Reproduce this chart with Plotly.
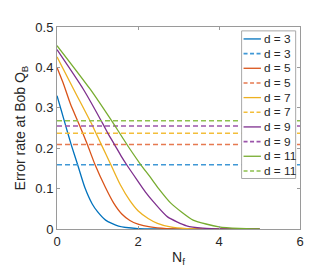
import plotly.graph_objects as go

# ---- data ----
labels = ["d = 3", "d = 5", "d = 7", "d = 9", "d = 11"]

x_d3 = [0, 0.11, 0.21, 0.35, 0.51, 0.69, 0.87, 1.0, 1.2, 1.52, 2.0, 2.5, 3.0, 4.0, 5.0]
y_d3 = [0.330, 0.292, 0.257, 0.209, 0.159, 0.102, 0.062, 0.043, 0.022, 0.007, 0.001, 0.0, 0.0, 0.0, 0.0]

x_d5 = [0, 0.15, 0.33, 0.555, 0.75, 0.94, 1.2, 1.4, 1.6, 1.8, 2.0, 2.3, 2.7, 3.2, 4.0, 5.0]
y_d5 = [0.400, 0.362, 0.310, 0.257, 0.209, 0.159, 0.102, 0.064, 0.037, 0.021, 0.012, 0.005, 0.001, 0.0, 0.0, 0.0]

x_d7 = [0, 0.41, 0.87, 1.08, 1.33, 1.56, 1.8, 2.0, 2.25, 2.48, 2.8, 3.2, 3.7, 5.0]
y_d7 = [0.426, 0.346, 0.257, 0.212, 0.159, 0.110, 0.070, 0.045, 0.026, 0.014, 0.005, 0.001, 0.0, 0.0]

x_d9 = [0, 0.65, 1.15, 1.25, 1.42, 1.6, 1.72, 2.0, 2.18, 2.41, 2.73, 3.2, 3.6, 4.2, 5.0]
y_d9 = [0.444, 0.346, 0.257, 0.238, 0.209, 0.178, 0.159, 0.118, 0.092, 0.064, 0.030, 0.008, 0.002, 0.0, 0.0]

x_d11 = [0, 0.82, 1.42, 1.60, 1.80, 2.07, 2.29, 2.51, 2.81, 3.36, 4.0, 4.5, 5.0]
y_d11 = [0.454, 0.346, 0.257, 0.229, 0.198, 0.159, 0.130, 0.100, 0.064, 0.022, 0.0055, 0.0015, 0.0]

thresholds = [0.159, 0.209, 0.237, 0.255, 0.268]
thr_x = [0, 6]

xs = [x_d3, x_d5, x_d7, x_d9, x_d11]
ys = [y_d3, y_d5, y_d7, y_d9, y_d11]

solid_colors = ["#0072BD", "#D95319", "#EDB120", "#7E2F8E", "#77AC30"]
dash_colors = ["#3F98D6", "#E67A50", "#F3BE3A", "#9B55AA", "#8DC04E"]
DASH = "5px,3px"
FONT = "Liberation Sans, Arial, sans-serif"

fig = go.Figure()
for i in range(5):
    fig.add_trace(go.Scatter(
        x=xs[i], y=ys[i], mode="lines", name=labels[i],
        line=dict(color=solid_colors[i], width=1.3, shape="spline", smoothing=0.6),
    ))
    fig.add_trace(go.Scatter(
        x=thr_x, y=[thresholds[i]] * 2, mode="lines", name=labels[i],
        line=dict(color=dash_colors[i], width=1.6, dash=DASH),
    ))

axis_common = dict(
    showline=True, linecolor="#9a9a9a", linewidth=1, mirror="allticks",
    ticks="inside", ticklen=3, tickcolor="#9a9a9a",
    showgrid=False, zeroline=False,
    tickfont=dict(family=FONT, size=13, color="#262626"),
)

# page is offset by the default 8px body margin
OFF = 8
W, H = 332 - OFF, 275 - OFF
plot_l, plot_r, plot_t, plot_b = 48.7, 300.5, 21.0, 229.0   # page pixels


def px_x(p):
    return (p - plot_l) / (plot_r - plot_l)


def px_y(p):
    return (plot_b - p) / (plot_b - plot_t)


# ---- manual compact legend ----
shapes = [dict(type="rect", xref="paper", yref="paper",
               x0=px_x(240), x1=px_x(296), y0=px_y(177), y1=px_y(25),
               fillcolor="white", line=dict(color="#a8a8a8", width=1), layer="above")]
annotations = []
row = 0
for i in range(5):
    for solid in (True, False):
        yy = px_y(33.3 + 15.1 * row)
        shapes.append(dict(type="line", xref="paper", yref="paper",
                           x0=px_x(242), x1=px_x(260), y0=yy, y1=yy, layer="above",
                           line=dict(color=solid_colors[i] if solid else dash_colors[i],
                                     width=1.3 if solid else 1.6,
                                     dash="solid" if solid else "4px,2.5px")))
        annotations.append(dict(xref="paper", yref="paper", x=px_x(261), y=yy,
                                xanchor="left", yanchor="middle", showarrow=False,
                                text=labels[i], font=dict(family=FONT, size=11.8, color="#262626")))
        row += 1

fig.update_layout(
    width=W, height=H,
    margin=dict(l=plot_l - OFF, r=W - (plot_r - OFF), t=plot_t - OFF, b=H - (plot_b - OFF)),
    paper_bgcolor="white", plot_bgcolor="white",
    font=dict(family=FONT, size=13, color="#262626"),
    showlegend=False,
    xaxis=dict(range=[0, 6], tickvals=[0, 2, 4, 6],
               title=dict(text="N<sub>f</sub>", standoff=4, font=dict(size=14)),
               **axis_common),
    yaxis=dict(range=[0, 0.5], tickvals=[0, 0.1, 0.2, 0.3, 0.4, 0.5],
               ticktext=["0", "0.1", "0.2", "0.3", "0.4", "0.5"],
               title=dict(text="Error rate at Bob Q<sub>B</sub>", standoff=6, font=dict(size=14)),
               **axis_common),
    shapes=shapes,
    annotations=annotations,
)

fig.write_html("out.html")
